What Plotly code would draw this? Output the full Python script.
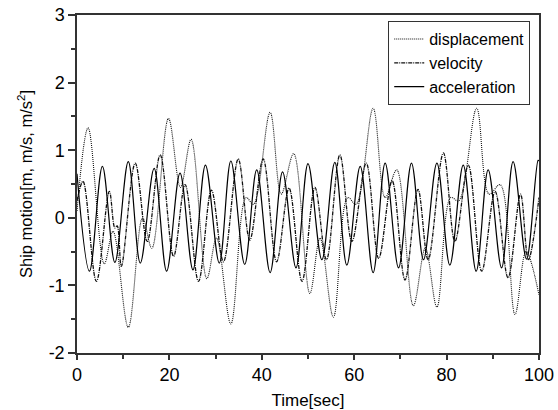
import plotly.graph_objects as go

# Displacement extrema (time [s], value [m])
disp_t = [0, 2.4, 5.9, 7.8, 11.1, 14.2, 16.2, 19.8, 22.4, 24.7, 28.1, 30.2, 33.3, 36.6, 38.2,
          41.8, 44.2, 46.9, 50.4, 52.6, 55.5, 58.6, 60.4, 64.1, 66.7, 69.2, 72.8, 75.4, 77.9,
          80.9, 82.6, 86.5, 89.2, 91.6, 94.8, 97.2, 100]
disp_v = [0.1, 1.33, -0.68, -0.2, -1.62, 0.0, -0.45, 1.47, 0.45, 1.16, -0.9, -0.3, -1.57, 0.3, 0.2,
          1.56, 0.35, 0.95, -1.12, -0.3, -1.47, 0.3, 0.2, 1.62, 0.3, 0.71, -1.3, -0.45, -1.32,
          0.3, 0.25, 1.62, 0.35, 0.49, -1.43, -0.5, -1.14]

# Velocity extrema (time [s], value [m/s])
vel_t = [0, 1.3, 4.2, 7.0, 8.2, 8.7, 9.6, 12.6, 15.2, 18.0, 20.9, 23.4, 26.3, 29.1, 31.7, 34.9,
         37.4, 40.3, 43.2, 45.9, 48.7, 51.5, 54.0, 56.9, 59.5, 62.6, 65.3, 68.2, 71.0, 73.8,
         76.0, 79.3, 81.8, 84.7, 87.6, 90.5, 93.3, 96.0, 97.7, 100]
vel_v = [0.25, 0.54, -0.94, 0.39, -0.15, -0.12, -0.72, 0.81, -0.35, 0.93, -0.57, 0.49, -0.94, 0.41, -0.65, 0.87,
         -0.33, 0.87, -0.65, 0.44, -0.94, 0.45, -0.62, 0.93, -0.35, 0.81, -0.6, 0.55, -0.92, 0.42,
         -0.62, 0.96, -0.35, 0.78, -0.79, 0.39, -0.89, 0.35, -0.62, 0.3]

# Acceleration extrema (time [s], value [m/s^2])
acc_t = [0, 2.7, 5.5, 8.2, 11.1, 13.7, 16.7, 19.4, 22.3, 25.1, 27.8, 30.8, 33.3, 36.3, 38.9,
         41.8, 44.5, 47.4, 50.0, 53.0, 55.8, 58.4, 61.3, 64.1, 66.7, 69.6, 72.4, 75.0, 77.9,
         80.7, 83.6, 86.4, 89.0, 91.9, 94.4, 97.3, 99.8, 100]
acc_v = [0.65, -0.79, 0.76, -0.66, 0.83, -0.67, 0.73, -0.79, 0.66, -0.77, 0.78, -0.67, 0.84, -0.69, 0.71,
         -0.81, 0.68, -0.74, 0.80, -0.62, 0.82, -0.70, 0.76, -0.81, 0.81, -0.74, 0.81, -0.62, 0.81,
         -0.70, 0.78, -0.79, 0.71, -0.74, 0.83, -0.61, 0.85, 0.84]

x_ticks = [0, 20, 40, 60, 80, 100]
y_ticks = [-2, -1, 0, 1, 2, 3]

FONT = "Liberation Sans, Arial, sans-serif"

fig = go.Figure()
fig.add_trace(go.Scatter(x=disp_t, y=disp_v, mode="lines", name="displacement",
                         line=dict(color="#111111", width=1.1, dash="1px,1px", shape="spline", smoothing=1)))
fig.add_trace(go.Scatter(x=vel_t, y=vel_v, mode="lines", name="velocity",
                         line=dict(color="#111111", width=1.3, dash="4px,1px,1px,1px", shape="spline", smoothing=1)))
fig.add_trace(go.Scatter(x=acc_t, y=acc_v, mode="lines", name="acceleration",
                         line=dict(color="black", width=1.2, shape="spline", smoothing=1)))

axis_common = dict(showline=True, linecolor="#333333", linewidth=1.5, mirror=True,
                   ticks="outside", tickcolor="#333333", tickwidth=1.5,
                   showgrid=False, zeroline=False, automargin=False,
                   tickfont=dict(family=FONT, size=18, color="black"))

fig.update_xaxes(range=[0, 100], tickvals=x_ticks, ticktext=[str(v) for v in x_ticks], ticklen=5,
                 minor=dict(ticks="outside", dtick=10, ticklen=4, tickwidth=1.5, tickcolor="#333333"),
                 title=dict(text="Time[sec]", font=dict(family=FONT, size=17, color="black"), standoff=14),
                 **axis_common)
fig.update_yaxes(range=[-2, 3], tickvals=y_ticks, ticktext=[str(v) for v in y_ticks], ticklen=7,
                 minor=dict(ticks="outside", dtick=0.5, ticklen=4, tickwidth=1.5, tickcolor="#333333"),
                 title=dict(text="Ship motion[m, m/s, m/s<sup>2</sup>]", font=dict(family=FONT, size=16.5, color="black"),
                            standoff=12),
                 **axis_common)

fig.update_layout(
    width=558, height=410,
    margin=dict(l=77, r=19, t=15, b=57),
    paper_bgcolor="white", plot_bgcolor="white",
    showlegend=True,
    legend=dict(x=0.981, y=0.982, xanchor="right", yanchor="top",
                bgcolor="white", bordercolor="#333333", borderwidth=1,
                font=dict(family=FONT, size=16, color="black"),
                tracegroupgap=0, itemwidth=30),
)

fig.write_html("out.html")
